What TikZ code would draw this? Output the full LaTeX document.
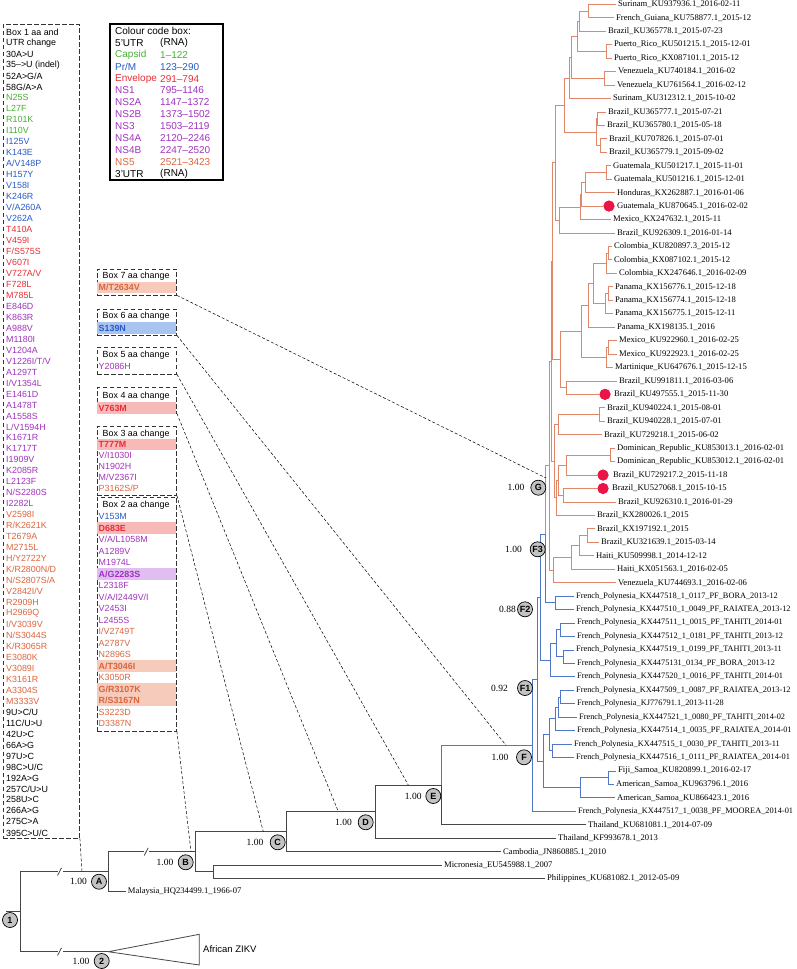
\documentclass[tikz,border=0pt]{standalone}
\usepackage{fontspec}
\setmainfont{Liberation Serif}
\setsansfont{Liberation Sans}
\definecolor{cgreen}{RGB}{70,175,50}
\definecolor{cblue}{RGB}{40,90,200}
\definecolor{cred}{RGB}{230,45,55}
\definecolor{cpurp}{RGB}{160,50,190}
\definecolor{corng}{RGB}{220,100,60}
\definecolor{hlorng}{RGB}{246,203,188}
\definecolor{hlred}{RGB}{248,185,185}
\definecolor{hlblue}{RGB}{170,196,240}
\definecolor{hlpurp}{RGB}{224,190,242}
\definecolor{brorng}{RGB}{225,135,105}
\definecolor{brblue}{RGB}{80,120,200}
\definecolor{dotred}{RGB}{235,20,70}
\definecolor{circgray}{RGB}{195,195,195}
\definecolor{trk}{RGB}{70,70,70}
\newcommand{\leaf}[4]{\node[leaflab] (#1) at ({#2-2},{4.3+13.45*#3}) {#4};}
\newcommand{\fleaf}[4]{\node[leaflab,font=\fontsize{8.3}{9}\selectfont] (#1) at ({#2-2},{4.3+13.45*#3}) {#4};}
\newcommand{\bitem}[4]{\node[btxt,text=#2] (#1) at (98.5,#3) {#4};}
\newcommand{\hitem}[5]{\fill[#5] (97.4,{#3-5.6}) rectangle (176.1,{#3+5.6}); \node[btxt,text=#2,font=\sffamily\bfseries\fontsize{8.9}{10}\selectfont] (#1) at (98.5,#3) {#4};}
\newcommand{\brk}[2]{\fill[white] ({#1-2.5},{#2-1.5}) rectangle ({#1+2.5},{#2+1.5}); \draw[kbr] ({#1-2.5},{#2+3.8}) -- ({#1+1.5},{#2-3.8});}
\begin{document}
\begin{tikzpicture}[x=1pt,y=-1pt,
  leaflab/.style={font=\fontsize{8.6}{9}\selectfont, anchor=west, inner xsep=2pt, inner ysep=0pt},
  btxt/.style={font=\sffamily\fontsize{8.9}{10}\selectfont, anchor=west, inner sep=0pt},
  ctxt/.style={font=\sffamily\fontsize{10}{11}\selectfont, anchor=west, inner sep=0pt},
  dbox/.style={draw=black!80, dash pattern=on 4.5pt off 2.5pt, line width=0.8pt, inner sep=0pt},
  conn/.style={black, dash pattern=on 3pt off 2pt, line width=0.5pt},
  obr/.style={brorng, line width=0.8pt},
  bbr/.style={brblue, line width=0.8pt},
  kbr/.style={trk, line width=0.8pt},
  ncirc/.style={circle, draw=black, fill=circgray, line width=0.7pt, inner sep=0pt, minimum size=15pt, font=\sffamily\bfseries\fontsize{9}{9}\selectfont},
  supp/.style={font=\fontsize{9.5}{10}\selectfont, anchor=east, inner sep=0pt},
  rdot/.style={circle, fill=dotred, inner sep=0pt, minimum size=11pt},
]
\useasboundingbox (0,0) rectangle (796,969);

% ---------------- Box 1 ----------------
\node[dbox, minimum width=76.5pt, minimum height=813.7pt] (bx1) at (41.25,431.15) {};
\foreach \t [count=\k from 1] in {Box 1 aa and,UTR change,30A>U,35\textendash{}>U (indel),52A>G/A,58G/A>A}
  \node[btxt] (b1-\k) at (6,{32+10.97*(\k-1)}) {\t};
\foreach \t [count=\k from 7] in {N25S,L27F,R101K,I110V}
  \node[btxt,text=cgreen] (b1-\k) at (6,{32+10.97*(\k-1)}) {\t};
\foreach \t [count=\k from 11] in {I125V,K143E,A/V148P,H157Y,V158I,K246R,V/A260A,V262A}
  \node[btxt,text=cblue] (b1-\k) at (6,{32+10.97*(\k-1)}) {\t};
\foreach \t [count=\k from 19] in {T410A,V459I,F/S575S,V607I,V727A/V,F728L,M785L}
  \node[btxt,text=cred] (b1-\k) at (6,{32+10.97*(\k-1)}) {\t};
\foreach \t [count=\k from 26] in {E846D,K863R,A988V,M1180I,V1204A,V1226I/T/V,A1297T,I/V1354L,E1461D,A1478T,A1558S,L/V1594H,K1671R,K1717T,I1909V,K2085R,L2123F,N/S2280S,I2282L}
  \node[btxt,text=cpurp] (b1-\k) at (6,{32+10.97*(\k-1)}) {\t};
\foreach \t [count=\k from 45] in {V2598I,R/K2621K,T2679A,M2715L,H/Y2722Y,K/R2800N/D,N/S2807S/A,V2842I/V,R2909H,H2969Q,I/V3039V,N/S3044S,K/R3065R,E3080K,V3089I,K3161R,A3304S,M3333V}
  \node[btxt,text=corng] (b1-\k) at (6,{32+10.97*(\k-1)}) {\t};
\foreach \t [count=\k from 63] in {9U>C/U,11C/U>U,42U>C,66A>G,97U>C,98C>U/C,192A>G,257C/U>U,258U>C,266A>G,275C>A,395C>U/C}
  \node[btxt] (b1-\k) at (6,{32+10.97*(\k-1)}) {\t};

% ---------------- Colour code box ----------------
\node[draw=black, line width=1.3pt, minimum width=113pt, minimum height=156pt, inner sep=0pt] (ccb) at (166.5,102) {};
\node[ctxt] (cc0) at (115,31) {Colour code box:};
\foreach \n/\r/\c [count=\k from 1] in {5'UTR/(RNA)/black,Capsid/1--122/cgreen,Pr{/}M/123--290/cblue,Envelope/291--794/cred,NS1/795--1146/cpurp,NS2A/1147--1372/cpurp,NS2B/1373--1502/cpurp,NS3/1503--2119/cpurp,NS4A/2120--2246/cpurp,NS4B/2247--2520/cpurp,NS5/2521--3423/corng,3'UTR/(RNA)/black}{
  \node[ctxt,text=\c] (ccn\k) at (115,{31+11.9*\k}) {\n};
  \node[ctxt,text=\c] (ccr\k) at (160,{31+11.9*\k}) {\r};
}

% ---------------- Boxes 7..2 ----------------
\node[dbox, minimum width=79.5pt, minimum height=26pt] (bx7) at (136.75,282) {};
\node[btxt] (t7) at (102.5,276) {Box 7 aa change};
\hitem{i7a}{corng}{287.3}{M/T2634V}{hlorng}

\node[dbox, minimum width=79.5pt, minimum height=26pt] (bx6) at (136.75,322) {};
\node[btxt] (t6) at (102.5,316) {Box 6 aa change};
\hitem{i6a}{cblue}{328}{S139N}{hlblue}

\node[dbox, minimum width=79.5pt, minimum height=27pt] (bx5) at (136.75,360.4) {};
\node[btxt] (t5) at (102.5,355) {Box 5 aa change};
\bitem{i5a}{cpurp}{366.7}{Y2086H}

\node[dbox, minimum width=79.5pt, minimum height=26pt] (bx4) at (136.75,400) {};
\node[btxt] (t4) at (102.5,396) {Box 4 aa change};
\hitem{i4a}{cred}{408}{V763M}{hlred}

\node[dbox, minimum width=79.5pt, minimum height=68.3pt] (bx3) at (136.75,460.85) {};
\node[btxt] (t3) at (102.5,433.7) {Box 3 aa change};
\hitem{i3a}{cred}{444.6}{T777M}{hlred}
\bitem{i3b}{cpurp}{455.5}{V/I1030I}
\bitem{i3c}{cpurp}{466.4}{N1902H}
\bitem{i3d}{cpurp}{477.3}{M/V2367I}
\bitem{i3e}{corng}{488.2}{P3162S/P}

\node[dbox, minimum width=79.5pt, minimum height=234pt] (bx2) at (136.75,614) {};
\node[btxt] (t2) at (102.5,505) {Box 2 aa change};
\bitem{i2a}{cblue}{516.5}{V153M}
\hitem{i2b}{cred}{528}{D683E}{hlred}
\bitem{i2c}{cpurp}{539.5}{V/A/L1058M}
\bitem{i2d}{cpurp}{551}{A1289V}
\bitem{i2e}{cpurp}{562.5}{M1974L}
\hitem{i2f}{cpurp}{574}{A/G2283S}{hlpurp}
\bitem{i2g}{cpurp}{585.5}{L2318F}
\bitem{i2h}{cpurp}{597}{V/A/I2449V/I}
\bitem{i2i}{cpurp}{608.5}{V2453I}
\bitem{i2j}{cpurp}{620}{L2455S}
\bitem{i2k}{corng}{631.5}{I/V2749T}
\bitem{i2l}{corng}{643}{A2787V}
\bitem{i2m}{corng}{654.5}{N2896S}
\hitem{i2n}{corng}{666}{A/T3046I}{hlorng}
\bitem{i2o}{corng}{677.5}{K3050R}
\hitem{i2p}{corng}{689}{G/R3107K}{hlorng}
\hitem{i2q}{corng}{700.5}{R/S3167N}{hlorng}
\bitem{i2r}{corng}{712}{S3223D}
\bitem{i2s}{corng}{723.5}{D3387N}

% ---------------- Leaves ----------------
\leaf{l0}{618}{0}{Surinam\_KU937936.1\_2016-02-11}
\leaf{l1}{616}{1}{French\_Guiana\_KU758877.1\_2015-12}
\leaf{l2}{608}{2}{Brazil\_KU365778.1\_2015-07-23}
\leaf{l3}{614}{3}{Puerto\_Rico\_KU501215.1\_2015-12-01}
\leaf{l4}{614}{4}{Puerto\_Rico\_KX087101.1\_2015-12}
\leaf{l5}{618}{5}{Venezuela\_KU740184.1\_2016-02}
\leaf{l6}{617}{6}{Venezuela\_KU761564.1\_2016-02-12}
\leaf{l7}{613}{7}{Surinam\_KU312312.1\_2015-10-02}
\leaf{l8}{608}{8}{Brazil\_KU365777.1\_2015-07-21}
\leaf{l9}{607}{9}{Brazil\_KU365780.1\_2015-05-18}
\leaf{l10}{609}{10}{Brazil\_KU707826.1\_2015-07-01}
\leaf{l11}{609}{11}{Brazil\_KU365779.1\_2015-09-02}
\leaf{l12}{613}{12}{Guatemala\_KU501217.1\_2015-11-01}
\leaf{l13}{614}{13}{Guatemala\_KU501216.1\_2015-12-01}
\leaf{l14}{617}{14}{Honduras\_KX262887.1\_2016-01-06}
\leaf{l15}{617}{15}{Guatemala\_KU870645.1\_2016-02-02}
\leaf{l16}{613}{16}{Mexico\_KX247632.1\_2015-11}
\leaf{l17}{617}{17}{Brazil\_KU926309.1\_2016-01-14}
\leaf{l18}{614}{18}{Colombia\_KU820897.3\_2015-12}
\leaf{l19}{614}{19}{Colombia\_KX087102.1\_2015-12}
\leaf{l20}{619}{20}{Colombia\_KX247646.1\_2016-02-09}
\leaf{l21}{615}{21}{Panama\_KX156776.1\_2015-12-18}
\leaf{l22}{615}{22}{Panama\_KX156774.1\_2015-12-18}
\leaf{l23}{615}{23}{Panama\_KX156775.1\_2015-12-11}
\leaf{l24}{617}{24}{Panama\_KX198135.1\_2016}
\leaf{l25}{619}{25}{Mexico\_KU922960.1\_2016-02-25}
\leaf{l26}{619}{26}{Mexico\_KU922923.1\_2016-02-25}
\leaf{l27}{615}{27}{Martinique\_KU647676.1\_2015-12-15}
\leaf{l28}{619}{28}{Brazil\_KU991811.1\_2016-03-06}
\leaf{l29}{614}{29}{Brazil\_KU497555.1\_2015-11-30}
\leaf{l30}{607}{30}{Brazil\_KU940224.1\_2015-08-01}
\leaf{l31}{607}{31}{Brazil\_KU940228.1\_2015-07-01}
\leaf{l32}{604}{32}{Brazil\_KU729218.1\_2015-06-02}
\leaf{l33}{617}{33}{Dominican\_Republic\_KU853013.1\_2016-02-01}
\leaf{l34}{617}{34}{Dominican\_Republic\_KU853012.1\_2016-02-01}
\leaf{l35}{613}{35}{Brazil\_KU729217.2\_2015-11-18}
\leaf{l36}{612}{36}{Brazil\_KU527068.1\_2015-10-15}
\leaf{l37}{618}{37}{Brazil\_KU926310.1\_2016-01-29}
\leaf{l38}{597}{38}{Brazil\_KX280026.1\_2015}
\leaf{l39}{597}{39}{Brazil\_KX197192.1\_2015}
\leaf{l40}{601}{40}{Brazil\_KU321639.1\_2015-03-14}
\leaf{l41}{596}{41}{Haiti\_KU509998.1\_2014-12-12}
\leaf{l42}{617}{42}{Haiti\_KX051563.1\_2016-02-05}
\leaf{l43}{618}{43}{Venezuela\_KU744693.1\_2016-02-06}
\fleaf{l44}{576}{44}{French\_Polynesia\_KX447518\_1\_0117\_PF\_BORA\_2013-12}
\fleaf{l45}{576}{45}{French\_Polynesia\_KX447510\_1\_0049\_PF\_RAIATEA\_2013-12}
\fleaf{l46}{577}{46}{French\_Polynesia\_KX447511\_1\_0015\_PF\_TAHITI\_2014-01}
\fleaf{l47}{577}{47}{French\_Polynesia\_KX447512\_1\_0181\_PF\_TAHITI\_2013-12}
\fleaf{l48}{576}{48}{French\_Polynesia\_KX447519\_1\_0199\_PF\_TAHITI\_2013-11}
\fleaf{l49}{577}{49}{French\_Polynesia\_KX4475131\_0134\_PF\_BORA\_2013-12}
\fleaf{l50}{577}{50}{French\_Polynesia\_KX447520\_1\_0016\_PF\_TAHITI\_2014-01}
\fleaf{l51}{576}{51}{French\_Polynesia\_KX447509\_1\_0087\_PF\_RAIATEA\_2013-12}
\fleaf{l52}{577}{52}{French\_Polynesia\_KJ776791.1\_2013-11-28}
\fleaf{l53}{579}{53}{French\_Polynesia\_KX447521\_1\_0080\_PF\_TAHITI\_2014-02}
\fleaf{l54}{577}{54}{French\_Polynesia\_KX447514\_1\_0035\_PF\_RAIATEA\_2014-01}
\fleaf{l55}{574}{55}{French\_Polynesia\_KX447515\_1\_0030\_PF\_TAHITI\_2013-11}
\fleaf{l56}{576}{56}{French\_Polynesia\_KX447516\_1\_0111\_PF\_RAIATEA\_2014-01}
\leaf{l57}{618}{57}{Fiji\_Samoa\_KU820899.1\_2016-02-17}
\leaf{l58}{616}{58}{American\_Samoa\_KU963796.1\_2016}
\leaf{l59}{617}{59}{American\_Samoa\_KU866423.1\_2016}
\fleaf{l60}{578}{60}{French\_Polynesia\_KX447517\_1\_0038\_PF\_MOOREA\_2014-01}
\leaf{l61}{588}{61}{Thailand\_KU681081.1\_2014-07-09}
\leaf{l62}{558}{62}{Thailand\_KF993678.1\_2013}
\leaf{l63}{503}{63}{Cambodia\_JN860885.1\_2010}
\leaf{l64}{444}{64}{Micronesia\_EU545988.1\_2007}
\leaf{l65}{547}{65}{Philippines\_KU681082.1\_2012-05-09}
\node[leaflab] (lMal) at (125.7,891.7) {Malaysia\_HQ234499.1\_1966-07};
\node[btxt,font=\sffamily\fontsize{9.5}{10}\selectfont] (afr) at (203,949) {African ZIKV};

\node[rdot] (d15) at (609,206.05) {};
\node[rdot] (d29) at (605,394.35) {};
\node[rdot] (d35) at (603,475.05) {};
\node[rdot] (d36) at (603,488.5) {};

% ---------------- internal nodes ----------------
\coordinate (n01) at (588,11.0);
\coordinate (n012) at (579,21.1);
\coordinate (n34) at (606.7,51.4);
\coordinate (nA) at (577.5,36.25);
\coordinate (n56) at (604,78.3);
\coordinate (nB) at (571.7,57.3);
\coordinate (nC) at (569,77.9);
\coordinate (n89) at (597.7,118.6);
\coordinate (n1011) at (600,145.5);
\coordinate (nD) at (596,132.1);
\coordinate (nE) at (564,105.0);
\coordinate (n1213) at (606,172.4);
\coordinate (nF) at (585,182.5);
\coordinate (nGg) at (581.7,194.3);
\coordinate (nH) at (580,206.9);
\coordinate (nI) at (559,219.9);
\coordinate (nJ) at (555,162.5);
\coordinate (n1819) at (608,253.1);
\coordinate (n1820) at (606.7,263.2);
\coordinate (n2122) at (608,293.5);
\coordinate (n2123) at (605,303.6);
\coordinate (nK) at (593,283.4);
\coordinate (nL) at (588,305.25);
\coordinate (n2526) at (608,347.3);
\coordinate (n2527) at (606.7,357.4);
\coordinate (nM) at (581.7,331.3);
\coordinate (n2829) at (566.7,387.6);
\coordinate (nN) at (560,359.45);
\coordinate (n3031) at (599,414.5);
\coordinate (nO) at (558,424.6);
\coordinate (n3334) at (610,454.9);
\coordinate (n3335) at (566.7,465.0);
\coordinate (n3637) at (563.3,495.2);
\coordinate (nP) at (558.3,480.1);
\coordinate (nQ) at (556.7,497.75);
\coordinate (n3940) at (587.7,535.6);
\coordinate (nR) at (579.3,545.7);
\coordinate (nS) at (571.7,557.45);
\coordinate (nU) at (552,261.0);
\coordinate (nW) at (554,461.2);
\coordinate (nX) at (551,361.1);
\coordinate (nY) at (553,570.0);
\coordinate (nG) at (549.5,465.6);
\coordinate (n4445) at (555,602.8);
\coordinate (nF3) at (545,534.2);
\coordinate (n4647) at (560,629.7);
\coordinate (n4849) at (563,656.6);
\coordinate (n4649) at (556.7,643.2);
\coordinate (n4650) at (550,660.0);
\coordinate (nF2) at (540.5,597.1);
\coordinate (n5152) at (560,697.0);
\coordinate (n5153) at (558,707.1);
\coordinate (n5154) at (555.7,718.85);
\coordinate (n5556) at (552.3,750.8);
\coordinate (n5156) at (549.3,734.8);
\coordinate (n5758) at (608.3,777.7);
\coordinate (n5759) at (580,787.8);
\coordinate (nF1s) at (543.3,761.3);
\coordinate (nF1) at (537.7,679.2);
\coordinate (nFF) at (532.7,745.25);
\coordinate (nEE) at (441.7,785.0);
\coordinate (nDD) at (375.7,811.6);
\coordinate (nCC) at (286.7,831.6);
\coordinate (nMP) at (213.3,871.8);
\coordinate (nBB) at (195.7,851.7);
\coordinate (nAA) at (108.3,871.7);
\coordinate (nRt) at (20,911.7);
\coordinate (nStub) at (6,911.7);
\coordinate (tA) at (108.3,951.7);
\coordinate (tB) at (199.3,934.3);
\coordinate (tC) at (199.3,965);

% ---------------- branches ----------------
\foreach \p/\c in {n01/l0,n01/l1,n012/n01,n012/l2,n34/l3,n34/l4,nA/n012,nA/n34,n56/l5,n56/l6,nB/nA,nB/n56,nC/nB,nC/l7,n89/l8,n89/l9,n1011/l10,n1011/l11,nD/n89,nD/n1011,nE/nC,nE/nD,n1213/l12,n1213/l13,nF/n1213,nF/l14,nGg/nF,nGg/d15,nH/nGg,nH/l16,nI/nH,nI/l17,nJ/nE,nJ/nI,n1819/l18,n1819/l19,n1820/n1819,n1820/l20,n2122/l21,n2122/l22,n2123/n2122,n2123/l23,nK/n1820,nK/n2123,nL/nK,nL/l24,n2526/l25,n2526/l26,n2527/n2526,n2527/l27,nM/nL,nM/n2527,n2829/l28,n2829/d29,nN/nM,nN/n2829,n3031/l30,n3031/l31,nO/n3031,nO/l32,n3334/l33,n3334/l34,n3335/n3334,n3335/d35,n3637/d36,n3637/l37,nP/n3335,nP/n3637,nQ/nP,nQ/l38,n3940/l39,n3940/l40,nR/n3940,nR/l41,nS/nR,nS/l42,nU/nJ,nU/nN,nW/nO,nW/nQ,nX/nU,nX/nW,nY/nS,nY/l43,nG/nX,nG/nY,nF3/nG}
  \draw[obr] (\p) |- (\c);
\foreach \p/\c in {n4445/l44,n4445/l45,nF3/n4445,n4647/l46,n4647/l47,n4849/l48,n4849/l49,n4649/n4647,n4649/n4849,n4650/n4649,n4650/l50,nF2/nF3,nF2/n4650,n5152/l51,n5152/l52,n5153/n5152,n5153/l53,n5154/n5153,n5154/l54,n5556/l55,n5556/l56,n5156/n5154,n5156/n5556,n5758/l57,n5758/l58,n5759/n5758,n5759/l59,nF1s/n5156,nF1s/n5759,nF1/nF2,nF1/nF1s,nFF/nF1,nFF/l60,nEE/nFF}
  \draw[bbr] (\p) |- (\c);
\foreach \p/\c in {nEE/l61,nDD/nEE,nDD/l62,nCC/nDD,nCC/l63,nMP/l64,nMP/l65,nBB/nCC,nBB/nMP,nAA/nBB,nAA/lMal,nRt/nAA,nRt/tA}
  \draw[kbr] (\p) |- (\c);
\draw[kbr] (nRt) -- (nStub);
\draw[kbr, fill=white] (tA) -- (tB) -- (tC) -- cycle;
\brk{60}{871.7}
\brk{146.7}{851.7}
\brk{60}{951.7}

% red dots on top
\node[rdot] (d15b) at (d15) {};
\node[rdot] (d29b) at (d29) {};
\node[rdot] (d35b) at (d35) {};
\node[rdot] (d36b) at (d36) {};

% ---------------- connectors ----------------
\coordinate (c1) at (82,871.7);
\coordinate (c2) at (191,851.7);
\coordinate (c3) at (263.3,831.6);
\coordinate (c4) at (338.3,811.6);
\coordinate (c5) at (408.3,785);
\coordinate (c6) at (506,745.25);
\coordinate (c7) at (546,478);
\draw[conn] (bx1.south east) -- (c1);
\draw[conn] (bx2.south east) -- (c2);
\draw[conn] (bx3.south east) -- (c3);
\draw[conn] (bx4.south east) -- (c4);
\draw[conn] (bx5.south east) -- (c5);
\draw[conn] (bx6.south east) -- (c6);
\draw[conn] (bx7.south east) -- (c7);

% ---------------- node labels ----------------
\node[ncirc] (k1) at (10,920) {1};
\node[ncirc] (k2) at (101.7,961) {2};
\node[supp] (s2) at (89.5,961) {1.00};
\node[ncirc] (kA) at (99,881.7) {A};
\node[supp] (sA) at (87,881.7) {1.00};
\node[ncirc] (kB) at (185.7,862.3) {B};
\node[supp] (sB) at (173.5,862.3) {1.00};
\node[ncirc] (kC) at (277.7,842.3) {C};
\node[supp] (sC) at (263.5,842.3) {1.00};
\node[ncirc] (kD) at (365.7,822.3) {D};
\node[supp] (sD) at (352,822.3) {1.00};
\node[ncirc] (kE) at (433.3,796) {E};
\node[supp] (sE) at (421.7,796) {1.00};
\node[ncirc] (kF) at (524,757.3) {F};
\node[supp] (sF) at (508.5,757.3) {1.00};
\node[ncirc] (kF1) at (525,688) {F1};
\node[supp] (sF1) at (508,688) {0.92};
\node[ncirc] (kF2) at (525,609.3) {F2};
\node[supp] (sF2) at (516,609.3) {0.88};
\node[ncirc] (kF3) at (537.7,549.3) {F3};
\node[supp] (sF3) at (522,549.3) {1.00};
\node[ncirc] (kG) at (538.3,487.7) {G};
\node[supp] (sG) at (524.5,487.7) {1.00};
\end{tikzpicture}
\end{document}
